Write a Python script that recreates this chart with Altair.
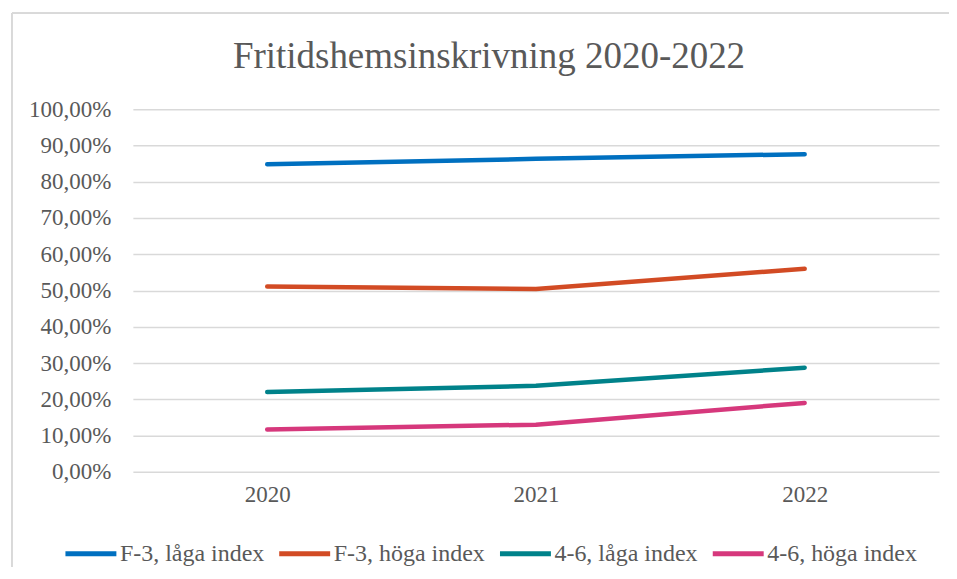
import altair as alt
import pandas as pd

years = ["2020", "2021", "2022"]
series_names = ["F-3, låga index", "F-3, höga index", "4-6, låga index", "4-6, höga index"]
f3_laga = [84.8, 86.3, 87.6]
f3_hoga = [51.1, 50.4, 56.0]
s46_laga = [22.0, 23.7, 28.7]
s46_hoga = [11.7, 13.0, 19.0]
colors = ["#0070c0", "#d24b24", "#00828a", "#d6387c"]
y_ticks = [0, 10, 20, 30, 40, 50, 60, 70, 80, 90, 100]

rows = []
for name, vals in zip(series_names, [f3_laga, f3_hoga, s46_laga, s46_hoga]):
    for yr, v in zip(years, vals):
        rows.append({"year": yr, "series": name, "value": v})
df = pd.DataFrame(rows)

FONT = "Liberation Serif"
GRAY = "#595959"

lines = alt.Chart(df).mark_line(strokeWidth=4.5, strokeCap="round", strokeJoin="round").encode(
    x=alt.X("year:N", sort=years,
            scale=alt.Scale(type="point", padding=0.5),
            axis=alt.Axis(title=None, labelAngle=0, ticks=False, domain=False, grid=False,
                          labelFont=FONT, labelFontSize=23, labelColor=GRAY, labelPadding=12)),
    y=alt.Y("value:Q", scale=alt.Scale(domain=[0, 100], nice=False),
            axis=alt.Axis(title=None, values=y_ticks, ticks=False, domain=False,
                          labelExpr="replace(format(datum.value, '.2f'), '.', ',') + '%'",
                          labelFont=FONT, labelFontSize=23, labelColor=GRAY, labelPadding=22,
                          gridColor="#d9d9d9", gridWidth=1.5)),
    color=alt.Color("series:N", sort=series_names,
                    scale=alt.Scale(domain=series_names, range=colors),
                    legend=alt.Legend(title=None, orient="none", legendX=-70, legendY=417,
                                      direction="horizontal", columns=4,
                                      symbolType="stroke", symbolSize=2600, symbolStrokeWidth=5,
                                      labelFont=FONT, labelFontSize=24, labelColor=GRAY,
                                      labelOffset=1, columnPadding=4)),
)

frame_left = alt.Chart(df).mark_rule(color="#d9d9d9", strokeWidth=1.5).encode(
    x=alt.value(-121), y=alt.value(-96), y2=alt.value(480))
frame_top = alt.Chart(df).mark_rule(color="#d9d9d9", strokeWidth=1.5).encode(
    x=alt.value(-121), x2=alt.value(830), y=alt.value(-96))

chart = alt.layer(frame_left, frame_top, lines).properties(
    width=807, height=363,
    title=alt.TitleParams("Fritidshemsinskrivning 2020-2022", font=FONT, fontSize=37,
                          fontWeight="normal", color=GRAY, anchor="middle", dx=-47,
                          frame="group", baseline="alphabetic", offset=0, dy=93),
    autosize=alt.AutoSizeParams(type="none"),
    padding={"left": 125, "top": 101, "right": 10, "bottom": 95},
).configure(background="white").configure_view(stroke=None)

chart.save("out.html", embed_options={"renderer": "svg", "actions": False})
